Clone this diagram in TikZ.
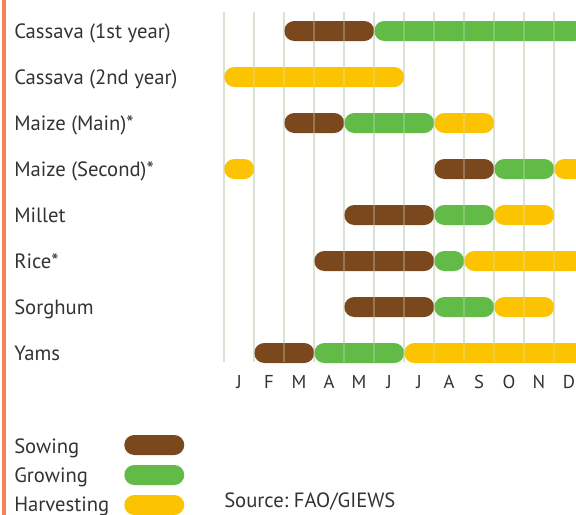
\documentclass[tikz,border=0pt]{standalone}
\usepackage{fontspec}
\setmainfont{PT Sans}
\usetikzlibrary{positioning}

\definecolor{sowbrown}{HTML}{7B481E}
\definecolor{growgreen}{HTML}{62BB46}
\definecolor{harvyellow}{HTML}{FCC400}
\definecolor{gridgrey}{HTML}{D9E2D3}
\definecolor{edgeorange}{HTML}{F0845A}
\definecolor{labelgrey}{HTML}{333333}

\tikzset{
  pill/.style={rounded corners=7.5pt, inner sep=0pt, minimum height=15pt, anchor=west},
  sowing/.style={pill, fill=sowbrown},
  growing/.style={pill, fill=growgreen},
  harvesting/.style={pill, fill=harvyellow},
  croplabel/.style={anchor=base west, text=labelgrey, inner sep=0pt, font=\fontsize{15.5}{18}\selectfont},
  monthlabel/.style={anchor=base, text=labelgrey, inner sep=0pt, font=\fontsize{14}{16}\selectfont},
}

% one bar: row, first month, number of months, stage
\newcommand{\seg}[4]{%
  \node[#4, minimum width={#3*22.5pt}] (s#1m#2) at ({224+30*#2},{31+46*#1}) {};}

\begin{document}
\begin{tikzpicture}[x=0.75pt, y=-0.75pt]
  \useasboundingbox (0,0) rectangle (576,515);
  \clip (0,0) rectangle (576,515);

  % orange edge
  \fill[edgeorange] (2.5,0) rectangle (6,515);

  % month grid
  \foreach \m in {0,...,11}
    \draw[gridgrey, line width=1.5pt] ({224+30*\m},12) -- ({224+30*\m},362);

  % crop names
  \foreach \c [count=\r from 0] in {Cassava (1st year), Cassava (2nd year),
      Maize (Main)*, Maize (Second)*, Millet, Rice*, Sorghum, Yams}
    \node[croplabel] (crop\r) at (14,{38+46*\r}) {\c};

  % bars
  \seg{0}{2}{3}{sowing}     \seg{0}{5}{7}{growing}
  \seg{1}{0}{6}{harvesting}
  \seg{2}{2}{2}{sowing}     \seg{2}{4}{3}{growing}  \seg{2}{7}{2}{harvesting}
  \seg{3}{0}{1}{harvesting} \seg{3}{7}{2}{sowing}
  \seg{3}{9}{2}{growing}    \seg{3}{11}{1}{harvesting}
  \seg{4}{4}{3}{sowing}     \seg{4}{7}{2}{growing}  \seg{4}{9}{2}{harvesting}
  \seg{5}{3}{4}{sowing}     \seg{5}{7}{1}{growing}  \seg{5}{8}{4}{harvesting}
  \seg{6}{4}{3}{sowing}     \seg{6}{7}{2}{growing}  \seg{6}{9}{2}{harvesting}
  \seg{7}{1}{2}{sowing}     \seg{7}{3}{3}{growing}  \seg{7}{6}{6}{harvesting}

  % grid showing faintly through the bars
  \foreach \m in {1,...,11}
    \draw[gridgrey, line width=1.5pt, opacity=0.3] ({224+30*\m},20) -- ({224+30*\m},362);

  % months
  \foreach \l [count=\i from 0] in {J,F,M,A,M,J,J,A,S,O,N,D}
    \node[monthlabel] (month\i) at ({239+30*\i},388) {\l};

  % legend
  \node[croplabel] (sowtext) at (14,453) {Sowing};
  \node[croplabel] (growtext) at (14,482) {Growing};
  \node[croplabel] (harvtext) at (14,511) {Harvesting};
  \node[sowing, minimum width=45pt] (sowkey) at (124,445) {};
  \node[growing, minimum width=45pt] (growkey) at (124,475) {};
  \node[harvesting, minimum width=45pt] (harvkey) at (124,505) {};
  \node[croplabel] (source) at (224,507) {Source:\ FAO/GIEWS};
\end{tikzpicture}
\end{document}
